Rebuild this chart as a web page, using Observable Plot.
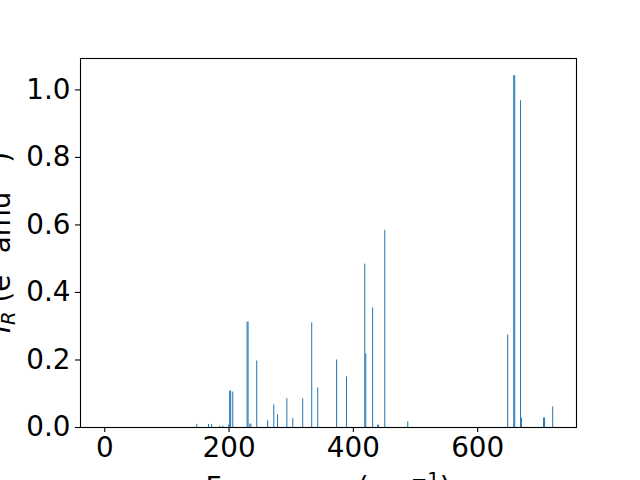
<!DOCTYPE html>
<html>
<head>
<meta charset="utf-8">
<script src="https://cdn.jsdelivr.net/npm/d3@7"></script>
<script src="https://cdn.jsdelivr.net/npm/@observablehq/plot@0.6"></script>
<style>
  html, body { margin: 0; padding: 0; background: white; }
  svg { display: block; }
</style>
</head>
<body>
<div id="chart"></div>
<script>
const frequencies = [148, 167, 172, 185, 190, 199.5, 201, 202.6, 206, 229, 230.6, 233.5, 235.1, 244.5, 262, 272, 278, 293, 302.5, 318.5, 333, 342.7, 373, 389, 418.3, 420, 431, 439, 440.6, 450.5, 487.5, 648.3, 658, 659.6, 669, 670.4, 706, 707.6, 720.7];
const intensities = [0.009, 0.009, 0.009, 0.004, 0.004, 0.008, 0.108, 0.108, 0.105, 0.312, 0.312, 0.01, 0.01, 0.197, 0.02, 0.067, 0.038, 0.085, 0.026, 0.085, 0.31, 0.117, 0.2, 0.15, 0.484, 0.218, 0.354, 0.007, 0.007, 0.584, 0.017, 0.274, 1.042, 1.042, 0.968, 0.028, 0.028, 0.028, 0.061];
const xTicks = [0, 200, 400, 600];
const yTicks = [0.0, 0.2, 0.4, 0.6, 0.8, 1.0];

const data = frequencies.map((f, i) => ({freq: f, ir: intensities[i]}));

const fs = "27.8px";
const chart = Plot.plot({
  width: 640,
  height: 480,
  marginLeft: 80,
  marginRight: 64,
  marginTop: 58,
  marginBottom: 53,
  style: {fontFamily: "DejaVu Sans", fontSize: fs, background: "white", color: "black"},
  x: {domain: [-39, 759]},
  y: {domain: [0, 1.093]},
  marks: [
    Plot.ruleX(data, {x: "freq", y1: 0, y2: "ir", stroke: "#1f77b4", strokeWidth: 1}),
    Plot.axisX({ticks: xTicks, tickSize: 5, tickPadding: 5, tickFormat: d3.format("d"), label: null, fontSize: fs, strokeWidth: 1.1}),
    Plot.axisY({ticks: yTicks, tickSize: 5, tickPadding: 5, tickFormat: d3.format(".1f"), label: null, fontSize: fs, strokeWidth: 1.1}),
    Plot.frame({stroke: "black", strokeWidth: 1.1})
  ]
});
document.getElementById("chart").appendChild(chart);

// axis titles
const svg = d3.select(chart);
const yl = svg.append("text")
  .attr("transform", "translate(10,242.5) rotate(-90)")
  .attr("text-anchor", "middle")
  .attr("font-family", "DejaVu Sans")
  .attr("font-size", fs)
  .attr("fill", "black");
yl.append("tspan").attr("font-style", "italic").text("I");
yl.append("tspan").attr("font-style", "italic").attr("font-size", "19.5px").attr("dy", "5").text("R");
yl.append("tspan").attr("dy", "-5").text(" (e");
yl.append("tspan").attr("font-size", "19.5px").attr("dy", "-11").text("2");
yl.append("tspan").attr("dy", "11").text(" amu");
yl.append("tspan").attr("font-size", "19.5px").attr("dy", "-11").text("−1");
yl.append("tspan").attr("dy", "11").text(")");

const xl = svg.append("text")
  .attr("x", 328)
  .attr("y", 497)
  .attr("text-anchor", "middle")
  .attr("font-family", "DejaVu Sans")
  .attr("font-size", fs)
  .attr("fill", "black");
xl.append("tspan").text("Frequency (cm");
xl.append("tspan").attr("font-size", "19.5px").attr("dy", "-11").text("−1");
xl.append("tspan").attr("dy", "11").text(")");
</script>
</body>
</html>
